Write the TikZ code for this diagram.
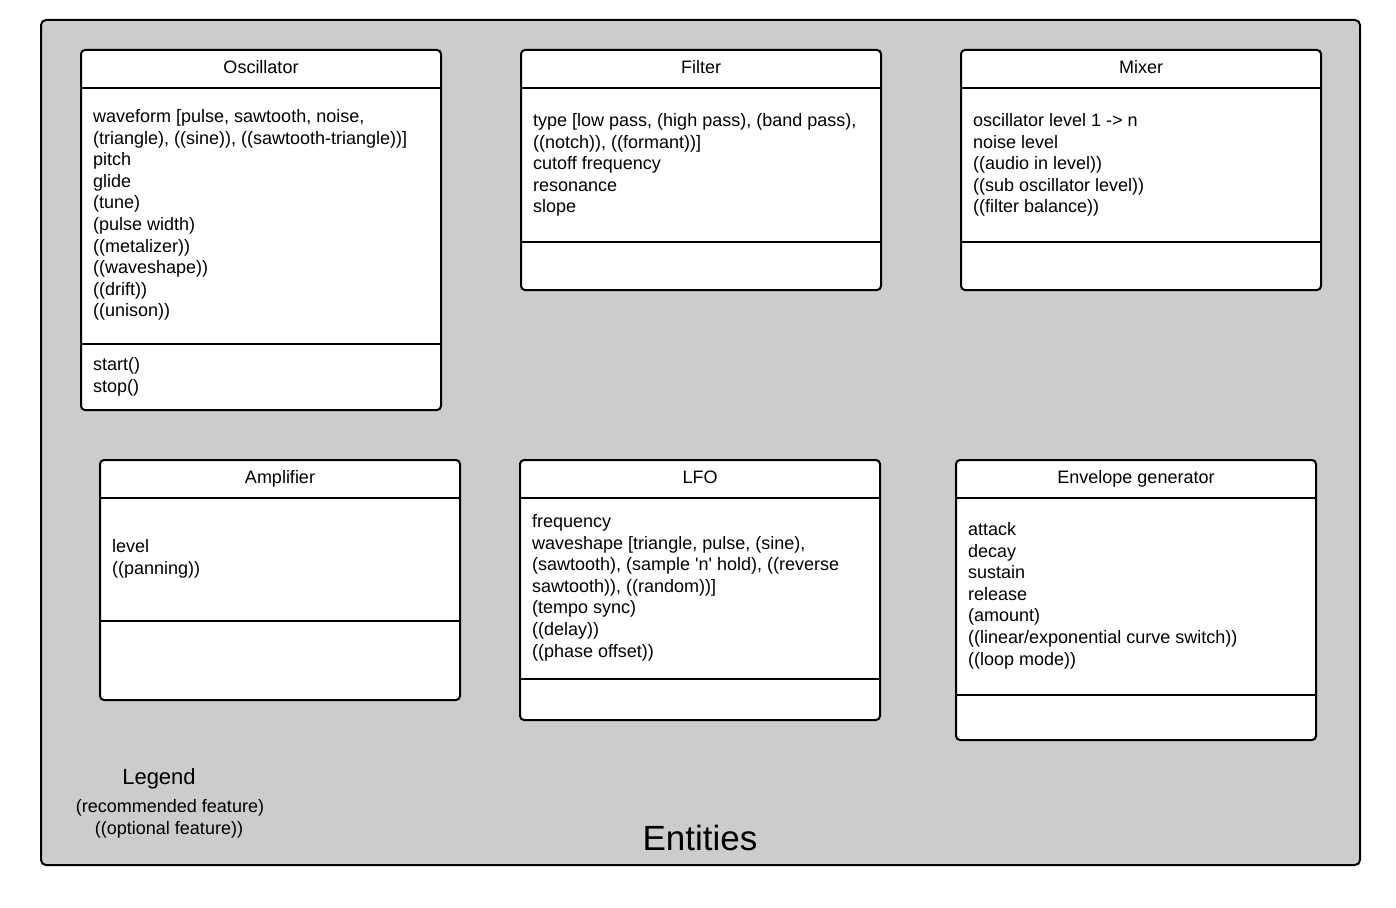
\documentclass[tikz,border=0pt]{standalone}
\usepackage{fontspec}
\setmainfont{Liberation Sans}
\usetikzlibrary{calc}
\definecolor{bggrey}{HTML}{CCCCCC}
\tikzset{
  frame/.style={draw=black, fill=bggrey, line width=2pt, rounded corners=5pt, inner sep=0pt, outer sep=0pt},
  umlbox/.style={draw=black, fill=white, line width=2pt, rounded corners=4pt, inner sep=0pt, outer sep=0pt},
  sepline/.style={draw=black, line width=2pt},
  titletext/.style={inner sep=0pt, font=\fontsize{18}{21.6}\selectfont},
  bodytext/.style={inner sep=0pt, align=left, font=\fontsize{18}{21.6}\selectfont},
  legendtext/.style={inner sep=0pt, font=\fontsize{22}{26}\selectfont},
  bigtext/.style={inner sep=0pt, font=\fontsize{35}{40}\selectfont},
}
% name, x, y, w, h, sep1, sep2, title
\newcommand\umlentity[8]{%
  \node[umlbox, minimum width=#4pt, minimum height=#5pt, anchor=north west] (#1) at (#2,#3) {};
  \draw[sepline] (#2,#6) -- ({#2+#4},#6);
  \draw[sepline] (#2,#7) -- ({#2+#4},#7);
  \node[titletext, anchor=base] (#1-title) at ({#2+#4/2},{#3+23.5}) {#8};
}
\begin{document}
\begin{tikzpicture}[x=1pt, y=-1pt]
\useasboundingbox (0,0) rectangle (1396,907);
\node[frame, minimum width=1319pt, minimum height=845pt, anchor=north west] (frame) at (41,20) {};

% multi-line nodes: the base anchor is the baseline of the last line
\umlentity{osc}{81}{50}{360}{360}{88}{344}{Oscillator}
\node[bodytext, anchor=base west] (osc-attr) at (93,316.9) {waveform [pulse, sawtooth, noise,\\(triangle), ((sine)), ((sawtooth-triangle))]\\pitch\\glide\\(tune)\\(pulse width)\\((metalizer))\\((waveshape))\\((drift))\\((unison))};
\node[bodytext, anchor=base west] (osc-ops) at (93,392.1) {start()\\stop()};

\umlentity{filter}{521}{50}{360}{240}{88}{242}{Filter}
\node[bodytext, anchor=base west] (filter-attr) at (533,212.9) {type [low pass, (high pass), (band pass),\\((notch)), ((formant))]\\cutoff frequency\\resonance\\slope};

\umlentity{mixer}{961}{50}{360}{240}{88}{242}{Mixer}
\node[bodytext, anchor=base west] (mixer-attr) at (973,212.9) {oscillator level 1 -> n\\noise level\\((audio in level))\\((sub oscillator level))\\((filter balance))};

\umlentity{amp}{100}{460}{360}{240}{498}{621}{Amplifier}
\node[bodytext, anchor=base west] (amp-attr) at (112,574.1) {level\\((panning))};

\umlentity{lfo}{520}{460}{360}{260}{498}{679}{LFO}
\node[bodytext, anchor=base west] (lfo-attr) at (532,657.1) {frequency\\waveshape [triangle, pulse, (sine),\\(sawtooth), (sample \textquotesingle n\textquotesingle\ hold), ((reverse\\sawtooth)), ((random))]\\(tempo sync)\\((delay))\\((phase offset))};

\umlentity{env}{956}{460}{360}{280}{498}{695}{Envelope generator}
\node[bodytext, anchor=base west] (env-attr) at (968,665.1) {attack\\decay\\sustain\\release\\(amount)\\((linear/exponential curve switch))\\((loop mode))};

\node[legendtext, anchor=base] (legend) at (159,784) {Legend};
\node[titletext, anchor=base] (legend-rec) at (170,812) {(recommended feature)};
\node[titletext, anchor=base] (legend-opt) at (169,834) {((optional feature))};
\node[bigtext, anchor=base] (entities) at (700,850.5) {Entities};
\end{tikzpicture}
\end{document}
